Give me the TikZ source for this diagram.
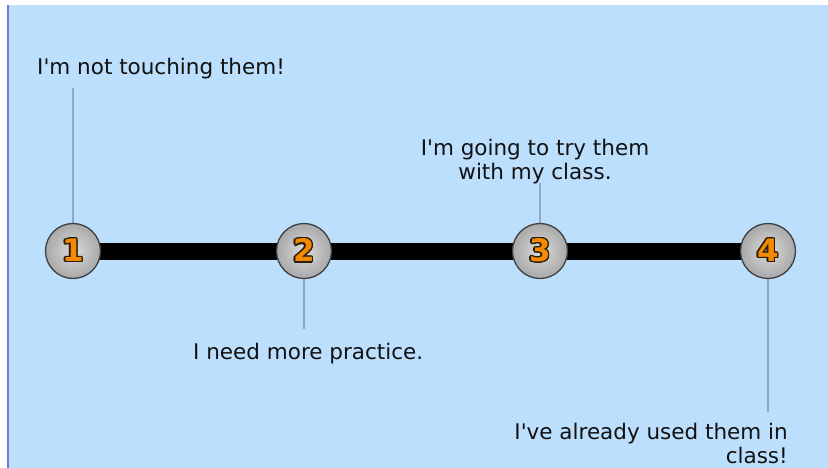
\documentclass[tikz,border=0pt]{standalone}
\usepackage{fontspec}
\setmainfont{DejaVu Sans}[Ligatures=TeXOff]
\usepackage[copies]{contour}
\contourlength{1.3pt}
\contournumber{16}
\definecolor{bgblue}{RGB}{188,223,253}
\definecolor{edgeblue}{RGB}{118,118,214}
\definecolor{leadcol}{RGB}{140,170,198}
\definecolor{numorange}{RGB}{245,138,0}
\definecolor{numedge}{RGB}{40,28,10}
\definecolor{txt}{RGB}{17,17,17}
\tikzset{
  bar/.style={line width=17pt, black},
  lead/.style={line width=2.6pt, leadcol},
  stepcircle/.style={circle, minimum size=55pt, inner sep=0pt, draw=black!75, line width=1.3pt,
     inner color=black!14, outer color=black!34},
  numlbl/.style={inner sep=0pt, font=\bfseries\fontsize{31}{32}\selectfont, text=numorange},
  lbl/.style={inner sep=0pt, text=txt, font=\fontsize{21.5}{24}\selectfont},
}
\newcommand\stepnum[1]{\contour{numedge}{#1}}
\begin{document}
\begin{tikzpicture}[x=1pt,y=-1pt]
\useasboundingbox (0,0) rectangle (828,468);
\fill[white] (0,0) rectangle (828,468);
\fill[bgblue] (8,5) rectangle (828,468);
\draw[edgeblue, line width=2pt] (8,5) -- (8,468);

\coordinate (p1) at (73,251);
\coordinate (p2) at (304,251);
\coordinate (p3) at (540,251);
\coordinate (p4) at (768,251);

\draw[bar] (p1) -- (p4);

% labels
\node[lbl, anchor=base west] (t1) at (37,75) {I'm not touching them!};
\node[lbl, anchor=base west] (t2) at (193,359) {I need more practice.};
\node[lbl, align=center, anchor=center] (t3) at (535,162) {I'm going to try them\\with my class.};
\node[lbl, align=right, anchor=north east] (t4) at (788,423) {I've already used them in\\class!};

\coordinate (e1) at (73,88);
\coordinate (e2) at (304,329);
\coordinate (e3) at (540,183);
\coordinate (e4) at (768,412);

\draw[lead] (p1) -- (e1);
\draw[lead] (p2) -- (e2);
\draw[lead] (p3) -- (e3);
\draw[lead] (p4) -- (e4);

\node[stepcircle] (n1) at (p1) {};
\node[stepcircle] (n2) at (p2) {};
\node[stepcircle] (n3) at (p3) {};
\node[stepcircle] (n4) at (p4) {};

\node[numlbl] (m1) at (n1) {\stepnum{1}};
\node[numlbl] (m2) at (n2) {\stepnum{2}};
\node[numlbl] (m3) at (n3) {\stepnum{3}};
\node[numlbl] (m4) at (n4) {\stepnum{4}};
\end{tikzpicture}
\end{document}
